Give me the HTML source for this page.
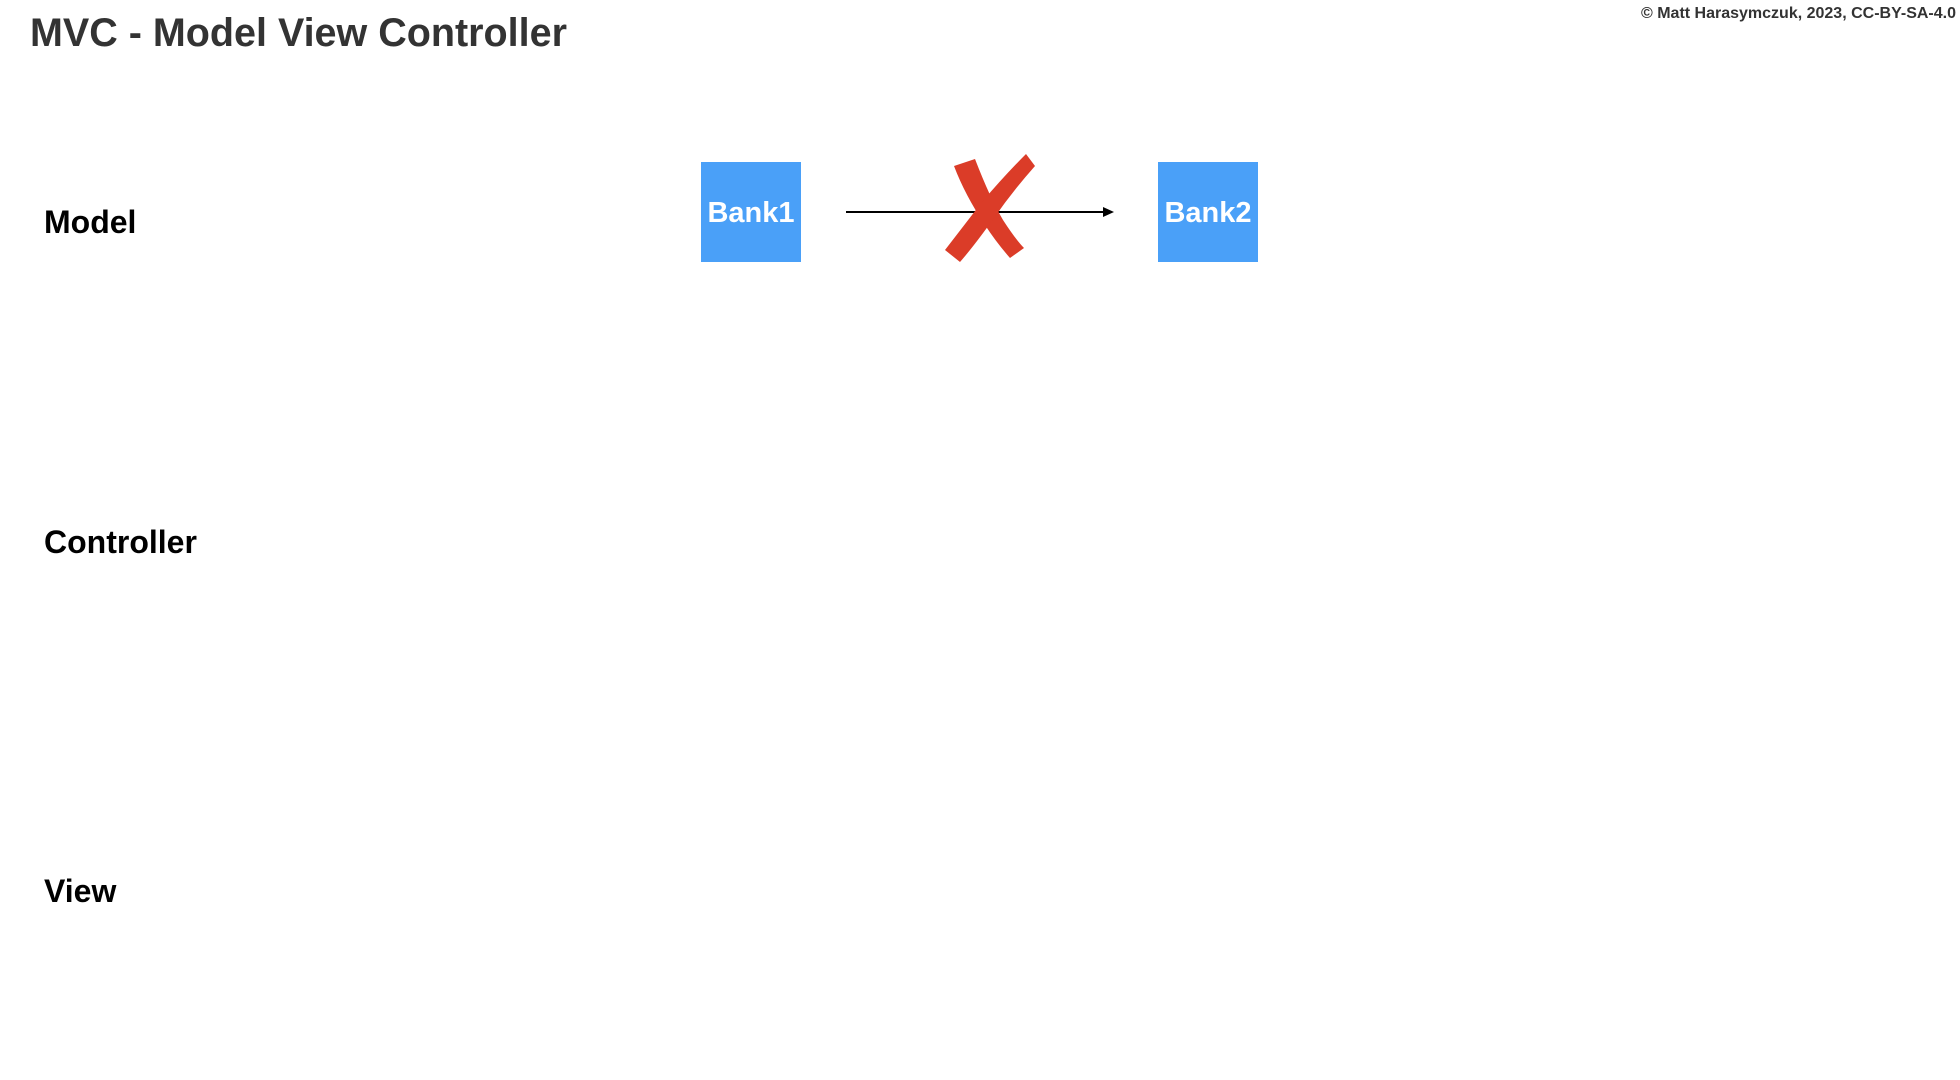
<!DOCTYPE html>
<html><head><meta charset="utf-8"><style>
body{margin:0;width:1960px;height:1080px;background:#fff;overflow:hidden;position:relative;font-family:"Liberation Sans",Arial,sans-serif}
.t{position:absolute;white-space:nowrap}
.box{position:absolute;width:100px;height:100px;background:#4aa0f8;color:#fff;font-weight:bold;font-size:29px;display:flex;align-items:center;justify-content:center;padding-top:3px;box-sizing:border-box}
</style></head><body>
<div class="t" style="left:30px;top:11px;font-size:39.5px;font-weight:bold;color:#333">MVC - Model View Controller</div>
<div class="t" style="right:4px;top:5px;font-size:16px;font-weight:bold;color:#333">© Matt Harasymczuk, 2023, CC-BY-SA-4.0</div>
<div class="t" style="left:44px;top:204px;font-size:32px;font-weight:bold">Model</div>
<div class="t" style="left:44px;top:524px;font-size:32px;font-weight:bold">Controller</div>
<div class="t" style="left:44px;top:873px;font-size:32px;font-weight:bold">View</div>
<div class="box" style="left:701px;top:162px">Bank1</div>
<div class="box" style="left:1158px;top:162px">Bank2</div>
<svg width="1960" height="1080" style="position:absolute;left:0;top:0">
<line x1="846" y1="212" x2="1104" y2="212" stroke="#000" stroke-width="2"/>
<polygon points="1114,212 1103,207 1103,217" fill="#000"/>
<path d="M954 166 L975 159 Q990 198 1003 220 Q1016 240 1024 248 L1010 258 Q996 242 985 225 Q965 195 954 166Z" fill="#db3c28"/>
<path d="M1026 154 L1035 166 Q1012 192 994 218 Q974 246 960 262 L945 250 Q962 228 982 202 Q1004 176 1026 154Z" fill="#db3c28"/>
</svg>
</body></html>
